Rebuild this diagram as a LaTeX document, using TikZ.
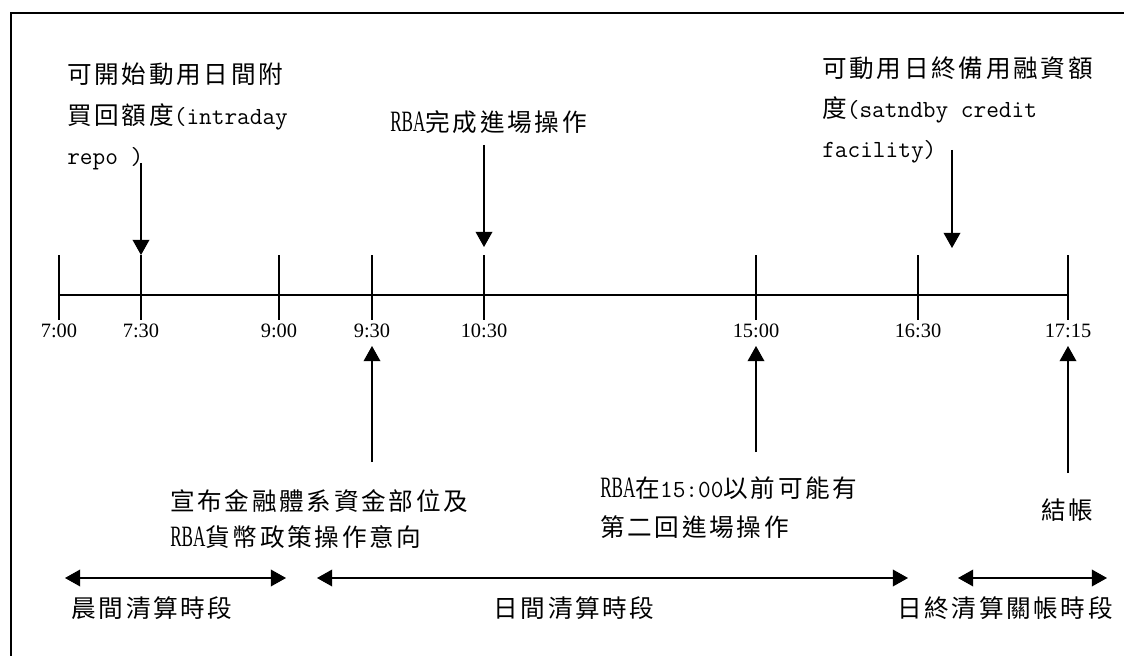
\documentclass[tikz,border=0pt]{standalone}
\usepackage{fontspec}
\setmainfont{Liberation Serif}
\newfontfamily\zhfont[LetterSpace=11]{Noto Sans CJK TC}
\newfontfamily\rbafont[Scale=1.2, FakeStretch=0.58]{Liberation Serif}
\newcommand{\hw}[1]{{\ttfamily\addfontfeature{Scale=1.08}#1}}
\newcommand{\rba}{{\rbafont RBA}}
\usepackage{tikz}
\usetikzlibrary{arrows.meta, positioning}

\tikzset{
    frameline/.style={line width=1.3pt},
    axisline/.style={line width=0.8pt},
    timelabel/.style={font=\fontsize{14.5}{17}\selectfont, inner sep=0pt},
    note/.style={font=\zhfont\fontsize{17.5}{28.5}\selectfont, align=left,
        inner sep=0pt, anchor=north west},
    pointer/.style={line width=0.8pt, -{Triangle[length=0.38cm, width=0.42cm]}},
    period/.style={line width=0.8pt,
        {Triangle[length=0.38cm, width=0.42cm]}-{Triangle[length=0.38cm, width=0.42cm]}},
}

\begin{document}
\begin{tikzpicture}[x=0.025cm, y=-0.025cm]
    \useasboundingbox (0,0) rectangle (1124,656);
    % frame: top and left edge only
    \coordinate (frame-ne) at (1124,13);
    \coordinate (frame-nw) at (11,13);
    \coordinate (frame-sw) at (11,656);
    \draw[frameline] (frame-ne) -- (frame-nw) -- (frame-sw);

    % time axis
    \coordinate (axis-w) at (59,295);
    \coordinate (axis-e) at (1068,295);
    \draw[axisline] (axis-w) -- (axis-e);
    \foreach \x/\t/\n in {59/7:00/a, 141/7:30/b, 279/9:00/c, 372/9:30/d,
                          484/10:30/e, 756/15:00/f, 918/16:30/g, 1068/17:15/h} {
        \coordinate (top-\n) at (\x,255);
        \coordinate (foot-\n) at (\x,320);
        \draw[axisline] (top-\n) -- (foot-\n);
        \node[timelabel] (time-\n) at (\x,331) {\t};
    }

    % events above the axis
    \node[note] (repo) at (67,63)
        {可開始動用日間附\\買回額度\hw{(intraday}\\\hw{repo )}};
    \node[note, anchor=west] (entry) at (390,122) {\rba 完成進場操作};
    \node[note] (standby) at (822,56)
        {可動用日終備用融資額\\度\hw{(satndby credit}\\\hw{facility)}};
    \coordinate (repo-tail) at (141,163);
    \coordinate (entry-tail) at (484,145);
    \coordinate (entry-tip) at (484,247);
    \coordinate (standby-tail) at (952,150);
    \coordinate (standby-tip) at (952,248);
    \draw[pointer] (repo-tail) -- (top-b);
    \draw[pointer] (entry-tail) -- (entry-tip);
    \draw[pointer] (standby-tail) -- (standby-tip);

    % events below the axis
    \node[note, font=\zhfont\fontsize{17.5}{25.6}\selectfont] (announce) at (170,489)
        {宣布金融體系資金部位及\\\rba 貨幣政策操作意向};
    \node[note, font=\zhfont\fontsize{17.5}{27.7}\selectfont] (second) at (600,476)
        {\rba 在\hw{15:00}以前可能有\\第二回進場操作};
    \node[note, anchor=center] (close) at (1067,510) {結帳};
    \coordinate (announce-tail) at (372,462);
    \coordinate (announce-tip) at (372,346);
    \coordinate (second-tail) at (756,452);
    \coordinate (second-tip) at (756,346);
    \coordinate (close-tail) at (1068,473);
    \coordinate (close-tip) at (1068,346);
    \draw[pointer] (announce-tail) -- (announce-tip);
    \draw[pointer] (second-tail) -- (second-tip);
    \draw[pointer] (close-tail) -- (close-tip);

    % settlement sessions
    \coordinate (morning-w) at (65,578);
    \coordinate (morning-e) at (286,578);
    \coordinate (daytime-w) at (317,578);
    \coordinate (daytime-e) at (908,578);
    \coordinate (evening-w) at (958,578);
    \coordinate (evening-e) at (1107,578);
    \draw[period] (morning-w) -- (morning-e);
    \draw[period] (daytime-w) -- (daytime-e);
    \draw[period] (evening-w) -- (evening-e);
    \node[note, anchor=center] (morning) at (152,608) {晨間清算時段};
    \node[note, anchor=center] (daytime) at (574,608) {日間清算時段};
    \node[note, anchor=center] (evening) at (1005,608) {日終清算關帳時段};
\end{tikzpicture}
\end{document}
